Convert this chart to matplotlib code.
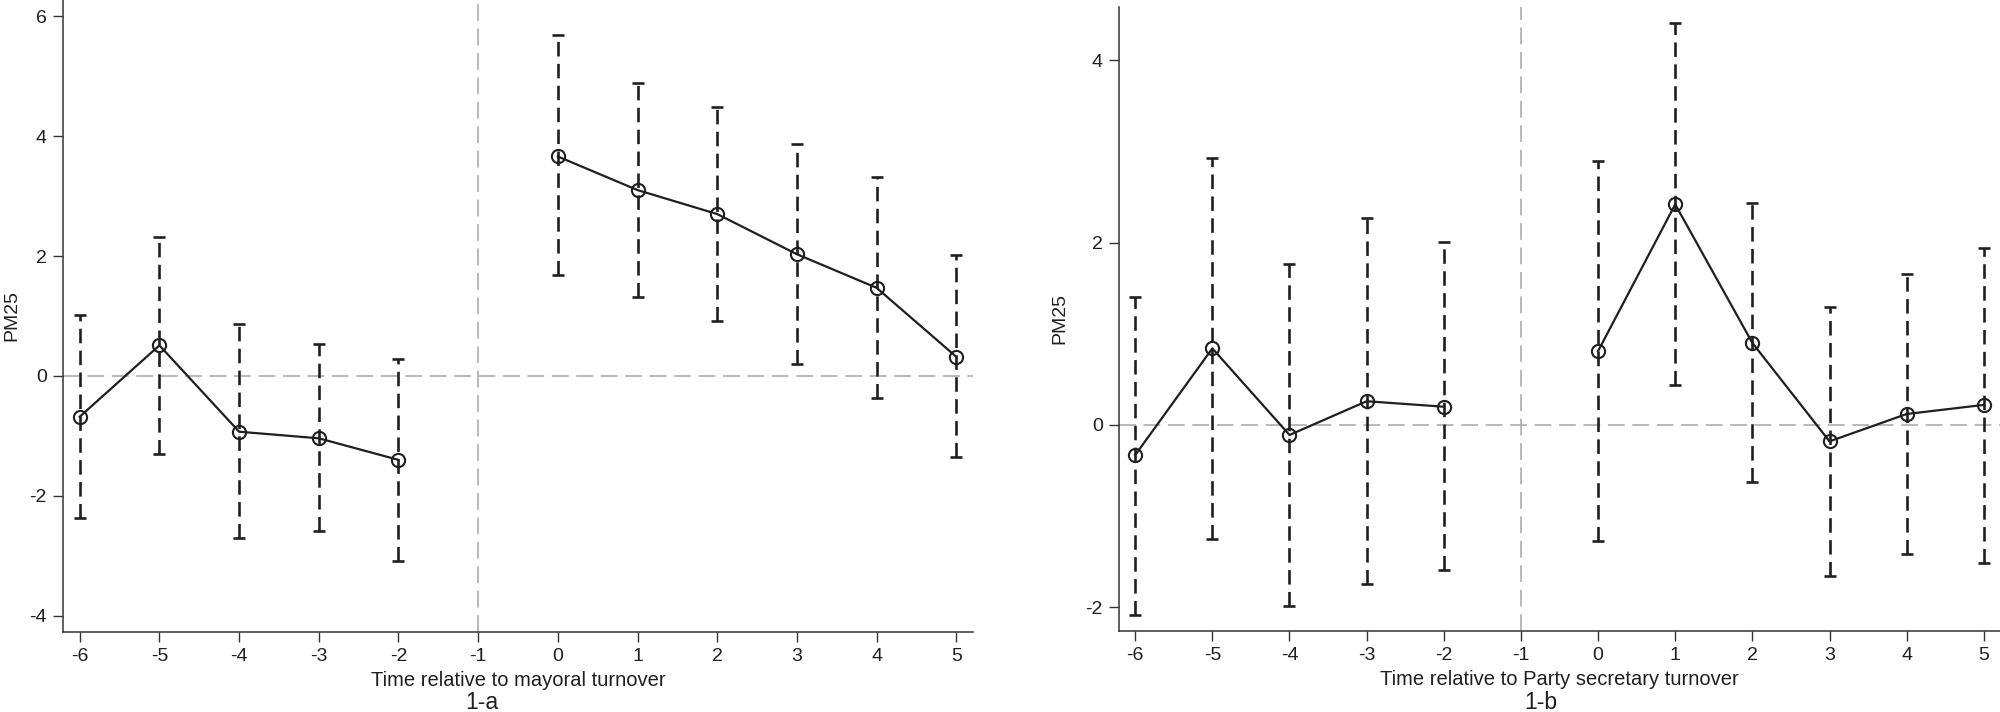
import numpy as np
import matplotlib
matplotlib.use('Agg')
import matplotlib.pyplot as plt

plt.rcParams['font.family'] = ['Liberation Sans', 'DejaVu Sans']
plt.rcParams['axes.unicode_minus'] = False

# event time (no estimate at -1, the reference year)
years = [-6, -5, -4, -3, -2, 0, 1, 2, 3, 4, 5]
xticks = [-6, -5, -4, -3, -2, -1, 0, 1, 2, 3, 4, 5]

# 1-a mayoral turnover
mayor_coef = [-0.68, 0.51, -0.93, -1.04, -1.40, 3.66, 3.10, 2.70, 2.03, 1.47, 0.32]
mayor_hi = [1.01, 2.32, 0.86, 0.53, 0.28, 5.68, 4.88, 4.48, 3.87, 3.31, 2.01]
mayor_lo = [-2.37, -1.30, -2.71, -2.59, -3.09, 1.68, 1.32, 0.92, 0.20, -0.37, -1.36]

# 1-b party secretary turnover
party_coef = [-0.33, 0.84, -0.11, 0.26, 0.20, 0.81, 2.42, 0.90, -0.18, 0.12, 0.22]
party_hi = [1.40, 2.93, 1.77, 2.27, 2.01, 2.89, 4.41, 2.43, 1.29, 1.66, 1.94]
party_lo = [-2.08, -1.25, -1.99, -1.75, -1.59, -1.27, 0.44, -0.63, -1.66, -1.42, -1.51]

ink = '#1f1f1f'
grey = '#a6a6a6'


def event_plot(ax, coef, lo, hi, yticks, ylim, xlabel):
    x = np.array(years)
    coef = np.array(coef)
    lo = np.array(lo)
    hi = np.array(hi)

    ax.axhline(0, color=grey, lw=1.1, dashes=(11, 5), zorder=1)
    ax.axvline(-1, color=grey, lw=1.1, dashes=(11, 5), zorder=1)

    eb = ax.errorbar(x, coef, yerr=[coef - lo, hi - coef], fmt='none',
                     ecolor=ink, elinewidth=1.9, capsize=4.3, capthick=1.9, zorder=2)
    for coll in eb[2]:
        coll.set_linestyle((0, (5.5, 2.8)))

    pre = x < -1
    post = x > -1
    for m in (pre, post):
        ax.plot(x[m], coef[m], color=ink, lw=1.6, marker='o', ms=9.5,
                mfc='none', mec=ink, mew=1.5, zorder=3)

    ax.set_xlim(-6.21, 5.21)
    ax.set_ylim(*ylim)
    ax.set_xticks(xticks)
    ax.set_yticks(yticks)
    ax.set_xlabel(xlabel, fontsize=14.5, color=ink)
    ax.set_ylabel('PM25', fontsize=14, color=ink)

    for s in ('top', 'right'):
        ax.spines[s].set_visible(False)
    for s in ('left', 'bottom'):
        ax.spines[s].set_color('#333333')
        ax.spines[s].set_linewidth(1.1)
    ax.tick_params(length=7.2, width=1.0, color='#333333', labelsize=14,
                   labelcolor=ink, pad=4.5)


fig = plt.figure(figsize=(20, 7.12), dpi=100)
ax1 = fig.add_axes([0.0315, 0.1124, 0.455, 0.8876])
ax2 = fig.add_axes([0.5595, 0.1138, 0.4405, 0.8764])

event_plot(ax1, mayor_coef, mayor_lo, mayor_hi, [-4, -2, 0, 2, 4, 6], (-4.27, 6.27),
           'Time relative to mayoral turnover')
event_plot(ax2, party_coef, party_lo, party_hi, [-2, 0, 2, 4], (-2.26, 4.585),
           'Time relative to Party secretary turnover')

ax1.xaxis.set_label_coords(0.5, -0.062)
ax2.xaxis.set_label_coords(0.5, -0.062)
ax1.yaxis.set_label_coords(-0.047, 0.5)
ax2.yaxis.set_label_coords(-0.057, 0.5)

fig.text(0.241, 0.004, '1-a', fontsize=16.5, color=ink, ha='center', va='baseline')
fig.text(0.7705, 0.004, '1-b', fontsize=16.5, color=ink, ha='center', va='baseline')

fig.savefig('out.png', dpi=100)
